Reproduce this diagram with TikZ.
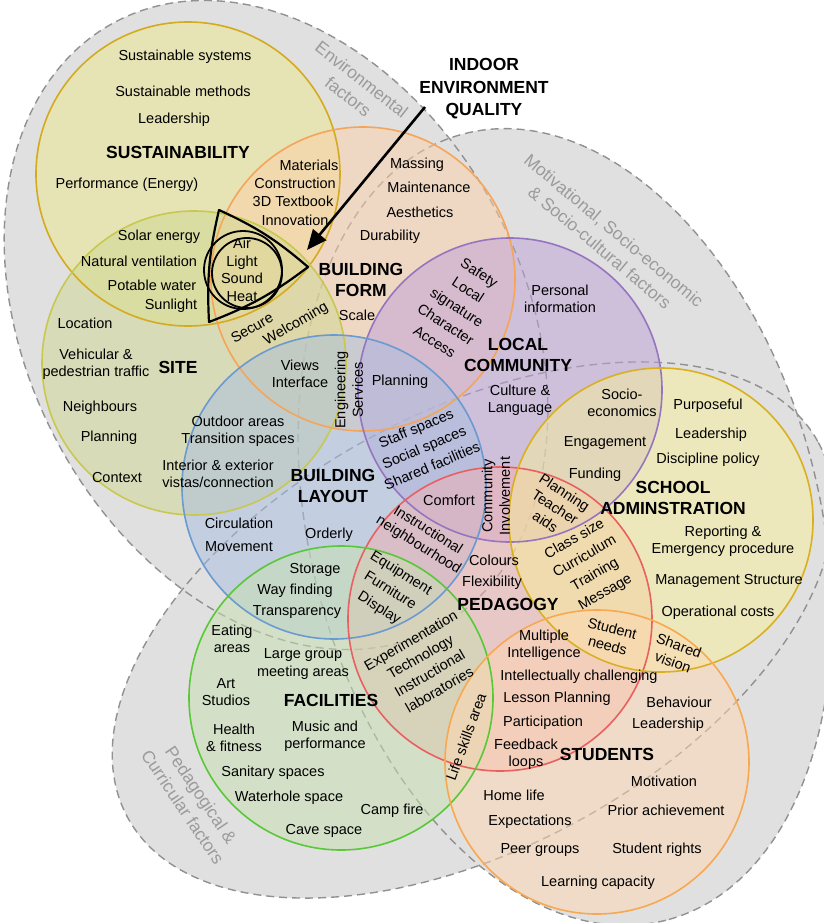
\documentclass[tikz,border=0pt]{standalone}
\usepackage{fontspec}
\setmainfont{Liberation Sans}
\usetikzlibrary{arrows.meta}
\definecolor{bggray}{RGB}{224,224,224}
\definecolor{dashgray}{RGB}{145,145,145}
\definecolor{labelgray}{RGB}{155,155,155}
\definecolor{sustF}{RGB}{236,230,138}\definecolor{sustD}{RGB}{212,170,32}
\definecolor{formF}{RGB}{252,208,168}\definecolor{formD}{RGB}{245,165,90}
\definecolor{siteF}{RGB}{208,216,144}\definecolor{siteD}{RGB}{200,200,80}
\definecolor{commF}{RGB}{190,160,216}\definecolor{commD}{RGB}{150,117,192}
\definecolor{layF}{RGB}{168,190,224}\definecolor{layD}{RGB}{106,154,208}
\definecolor{pedF}{RGB}{240,176,176}\definecolor{pedD}{RGB}{232,96,96}
\definecolor{schF}{RGB}{248,240,152}\definecolor{schD}{RGB}{216,176,32}
\definecolor{facF}{RGB}{200,224,176}\definecolor{facD}{RGB}{88,200,56}
\definecolor{stuF}{RGB}{255,216,176}\definecolor{stuD}{RGB}{248,168,80}
\begin{document}
\begin{tikzpicture}[x=1pt,y=-1pt,
  txt/.style={inner sep=0pt, font=\fontsize{14.5}{17.5}\selectfont, align=center},
  head/.style={inner sep=0pt, font=\fontsize{17.5}{21.5}\selectfont\bfseries, align=center},
  glabel/.style={inner sep=0pt, font=\fontsize{17.5}{22}\selectfont, text=labelgray, align=center},
  grayreg/.style={fill=bggray},
  dashreg/.style={draw=dashgray, line width=1.4pt, dash pattern=on 8pt off 5pt},
  venn/.style={fill opacity=0.5, draw opacity=1, line width=1.6pt}
]
\useasboundingbox (0,0) rectangle (824,923);
\clip (0,0) rectangle (824,923);
% gray factor regions
\path[grayreg, rotate around={-62:(276,325)}] (276,325) ellipse [x radius=343, y radius=248];
\path[grayreg, rotate around={-75.6:(565,527)}] (565,527) ellipse [x radius=406, y radius=255];
\path[grayreg, rotate around={28.5:(473,630)}] (473,630) ellipse [x radius=393, y radius=218];
\draw[dashreg, rotate around={-62:(276,325)}] (276,325) ellipse [x radius=343, y radius=248];
\draw[dashreg, rotate around={-75.6:(565,527)}] (565,527) ellipse [x radius=406, y radius=255];
\draw[dashreg, rotate around={28.5:(473,630)}] (473,630) ellipse [x radius=393, y radius=218];
% venn circles
\path[venn, fill=sustF] (188,174) circle [radius=152];
\path[venn, fill=formF] (363,279) circle [radius=152];
\path[venn, fill=siteF] (194,363) circle [radius=152];
\path[venn, fill=commF] (510,390) circle [radius=152];
\path[venn, fill=layF] (334,487) circle [radius=152];
\path[venn, fill=pedF] (500,619) circle [radius=152];
\path[venn, fill=schF] (661,520) circle [radius=152];
\path[venn, fill=facF] (341,698) circle [radius=152];
\path[venn, fill=stuF] (597,762) circle [radius=152];
\draw[line width=1.6pt, sustD] (188,174) circle [radius=152];
\draw[line width=1.6pt, formD] (363,279) circle [radius=152];
\draw[line width=1.6pt, siteD] (194,363) circle [radius=152];
\draw[line width=1.6pt, commD] (510,390) circle [radius=152];
\draw[line width=1.6pt, layD] (334,487) circle [radius=152];
\draw[line width=1.6pt, pedD] (500,619) circle [radius=152];
\draw[line width=1.6pt, schD] (661,520) circle [radius=152];
\draw[line width=1.6pt, facD] (341,698) circle [radius=152];
\draw[line width=1.6pt, stuD] (597,762) circle [radius=152];
% gray labels
\node[glabel, rotate=-38] (genv) at (355,88) {Environmental\\factors};
\node[glabel, rotate=-40] (gmot) at (607,239) {Motivational, Socio-economic\\\& Socio-cultural factors};
\node[glabel, rotate=-56] (gped) at (192,801) {Pedagogical \&\\Curricular factors};
% IEQ
\draw[line width=2.2pt, line join=round] (219,210) to[bend left=8] (308,267) to[bend left=8] (209,322) to[bend left=8] cycle;
\draw[line width=1.8pt] (243,270) circle [radius=39];
\draw[line width=1.8pt] (247,273) circle [radius=35];
\node[txt] (ieqtext) at (242,270) {Air\\Light\\Sound\\Heat};
\node[head, font=\fontsize{17.5}{22.5}\selectfont\bfseries] (ieq) at (484,89) {INDOOR\\ENVIRONMENT\\QUALITY};
\coordinate (ieqtail) at (425,107);
\coordinate (ieqtip) at (307,250);
\draw[line width=2.6pt, -{Triangle[length=20pt,width=17pt]}] (ieqtail) -- (ieqtip);
% sustainability
\node[txt] (s1) at (185,57) {Sustainable systems};
\node[txt] (s2) at (183,91) {Sustainable methods};
\node[txt] (s3) at (174,120) {Leadership};
\node[head] (sH) at (178,152) {SUSTAINABILITY};
\node[txt] (s4) at (127,185) {Performance (Energy)};
\node[txt] (s5) at (159,237) {Solar energy};
\node[txt] (s6) at (139,261) {Natural ventilation};
\node[txt] (s7) at (152,285) {Potable water};
\node[txt] (s8) at (171,306) {Sunlight};
% building form
\node[txt] (b1) at (309,165) {Materials};
\node[txt] (b2) at (295,183) {Construction};
\node[txt] (b3) at (293,201) {3D Textbook};
\node[txt] (b4) at (295,220) {Innovation};
\node[txt] (b5) at (417,165) {Massing};
\node[txt] (b6) at (429,187) {Maintenance};
\node[txt] (b7) at (420,212) {Aesthetics};
\node[txt] (b8) at (390,237) {Durability};
\node[head] (bH) at (361,280) {BUILDING\\FORM};
\node[txt] (b9) at (357,315) {Scale};
\node[txt, rotate=30] (b10) at (252,328) {Secure};
\node[txt, rotate=30] (b11) at (296,324) {Welcoming};
% site
\node[txt] (t1) at (85,323) {Location};
\node[txt] (t2) at (96,364) {Vehicular \&\\pedestrian traffic};
\node[head] (tH) at (178,367) {SITE};
\node[txt] (t3) at (100,408) {Neighbours};
\node[txt] (t4) at (109,438) {Planning};
\node[txt] (t5) at (117,478) {Context};
\node[txt] (t6) at (300,374) {Views\\Interface};
\node[txt] (t7) at (238,431) {Outdoor areas\\Transition spaces};
\node[txt] (t8) at (218,474) {Interior \& exterior\\vistas/connection};
% local community
\node[txt, rotate=-33, font=\fontsize{14.5}{20.5}\selectfont] (l1) at (457,307) {Safety\\Local\\signature\\Character\\Access};
\node[head] (lH) at (518,355) {LOCAL\\COMMUNITY};
\node[txt] (l2) at (560,299) {Personal\\information};
\node[txt] (l3) at (520,400) {Culture \&\\Language};
\node[txt] (l4) at (400,382) {Planning};
\node[txt, rotate=90] (l5) at (349,390) {Engineering\\Services};
\node[txt, rotate=23, font=\fontsize{14.5}{20.5}\selectfont] (l6) at (424,447) {Staff spaces\\Social spaces\\Shared facilities};
% school administration
\node[txt] (a1) at (622,403) {Socio-\\economics};
\node[txt] (a2) at (708,406) {Purposeful};
\node[txt] (a3) at (711,435) {Leadership};
\node[txt] (a4) at (708,460) {Discipline policy};
\node[txt] (a5) at (605,443) {Engagement};
\node[txt] (a6) at (595,475) {Funding};
\node[head] (aH) at (673,498) {SCHOOL\\ADMINSTRATION};
\node[txt, rotate=-33] (a7) at (555,507) {Planning\\Teacher\\aids};
\node[txt, rotate=30, font=\fontsize{14.5}{20.5}\selectfont] (a8) at (590,566) {Class size\\Curriculum\\Training\\Message};
\node[txt] (a9) at (723,541) {Reporting \&\\Emergency procedure};
\node[txt] (a10) at (729,581) {Management Structure};
\node[txt] (a11) at (718,613) {Operational costs};
\node[txt, rotate=-15] (a12) at (610,637) {Student\\needs};
\node[txt, rotate=-20] (a13) at (676,654) {Shared\\vision};
% building layout
\node[head] (yH) at (333,486) {BUILDING\\LAYOUT};
\node[txt] (y1) at (239,523) {Circulation};
\node[txt] (y2) at (239,547) {Movement};
\node[txt] (y3) at (329,535) {Orderly};
\node[txt] (y4) at (449,500) {Comfort};
\node[txt, rotate=90] (y5) at (496,496) {Community\\Involvement};
\node[txt, rotate=-32] (y6) at (423,538) {Instructional\\neighbourhood};
\node[txt] (y7) at (315,570) {Storage};
\node[txt] (y8) at (295,591) {Way finding};
\node[txt] (y9) at (297,612) {Transparency};
\node[txt, rotate=-32, font=\fontsize{14.5}{20.5}\selectfont] (y10) at (390,591) {Equipment\\Furniture\\Display};
% pedagogy
\node[txt] (p1) at (494,560) {Colours};
\node[txt] (p2) at (492,583) {Flexibility};
\node[head] (pH) at (508,604) {PEDAGOGY};
\node[txt, rotate=30, font=\fontsize{14.5}{19}\selectfont] (p3) at (425,665) {Experimentation\\Technology\\Instructional\\laboratories};
\node[txt] (p4) at (544,645) {Multiple\\Intelligence};
\node[txt] (p5) at (579,677) {Intellectually challenging};
\node[txt] (p6) at (557,699) {Lesson Planning};
\node[txt] (p7) at (543,723) {Participation};
\node[txt] (p8) at (526,754) {Feedback\\loops};
% facilities
\node[txt] (f1) at (232,639) {Eating\\areas};
\node[txt] (f2) at (303,664) {Large group\\meeting areas};
\node[txt] (f3) at (226,692) {Art\\Studios};
\node[head] (fH) at (331,700) {FACILITIES};
\node[txt] (f4) at (234,738) {Health\\\& fitness};
\node[txt] (f5) at (325,736) {Music and\\performance};
\node[txt] (f6) at (273,773) {Sanitary spaces};
\node[txt] (f7) at (289,798) {Waterhole space};
\node[txt] (f8) at (392,811) {Camp fire};
\node[txt] (f9) at (324,831) {Cave space};
\node[txt, rotate=70] (f10) at (466,737) {Life skills area};
% students
\node[txt] (u1) at (679,702) {Behaviour};
\node[txt] (u2) at (668,725) {Leadership};
\node[head] (uH) at (607,754) {STUDENTS};
\node[txt] (u3) at (664,781) {Motivation};
\node[txt] (u4) at (666,810) {Prior achievement};
\node[txt] (u5) at (514,795) {Home life};
\node[txt] (u6) at (530,822) {Expectations};
\node[txt] (u7) at (540,850) {Peer groups};
\node[txt] (u8) at (657,850) {Student rights};
\node[txt] (u9) at (598,883) {Learning capacity};
\end{tikzpicture}
\end{document}
